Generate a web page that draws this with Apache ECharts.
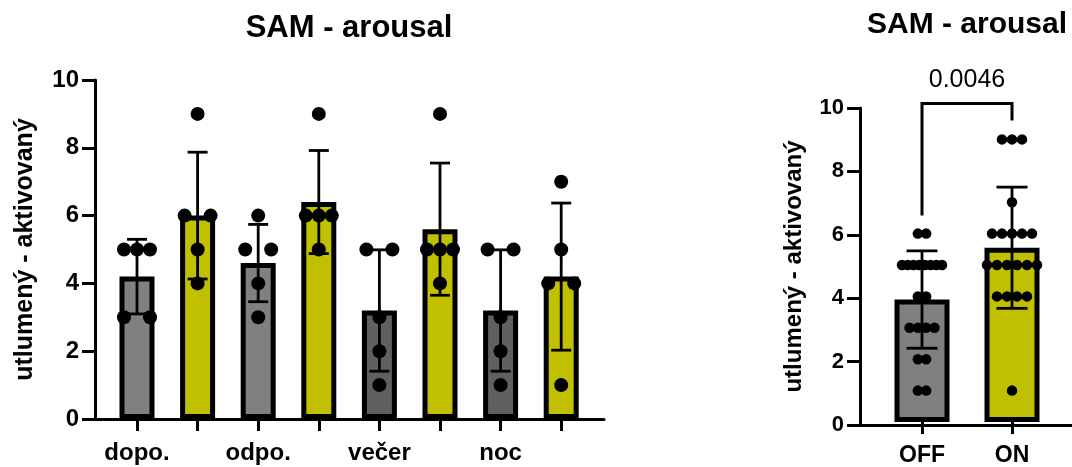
<!DOCTYPE html>
<html>
<head>
<meta charset="utf-8">
<script src="https://cdn.jsdelivr.net/npm/echarts@6/dist/echarts.min.js"></script>
<style>
  html, body { margin: 0; padding: 0; background: #ffffff; }
  #chart { width: 1072px; height: 467px; }
</style>
</head>
<body>
<div id="chart"></div>
<script>
// ---- data ----------------------------------------------------------------
const periods = ['dopo.', 'odpo.', 'večer', 'noc'];
const conditions = ['OFF', 'ON'];
const yTicks = [0, 2, 4, 6, 8, 10];

// individual SAM arousal ratings per period (OFF / ON)
const dopoOff = [5, 5, 5, 3, 3];
const dopoOn = [9, 6, 6, 5, 4];
const odpoOff = [6, 5, 5, 4, 3];
const odpoOn = [9, 6, 6, 6, 5];
const vecerOff = [5, 5, 3, 2, 1];
const vecerOn = [9, 5, 5, 5, 4];
const nocOff = [5, 5, 3, 2, 1];
const nocOn = [7, 5, 4, 4, 1];

// bar heights (mean) and error bars (SD), in the order dopo OFF, dopo ON, odpo OFF, ...
const periodMeans = [4.2, 6.0, 4.6, 6.4, 3.2, 5.6, 3.2, 4.2];
const periodSD = [1.10, 1.87, 1.14, 1.52, 1.79, 1.95, 1.79, 2.17];

// pooled ratings OFF vs ON
const pooledOff = [6, 6, 5, 5, 5, 5, 5, 5, 5, 5, 4, 4, 3, 3, 3, 3, 2, 2, 1, 1];
const pooledOn = [9, 9, 9, 7, 6, 6, 6, 6, 6, 5, 5, 5, 5, 5, 5, 4, 4, 4, 4, 1];
const pooledMeans = [3.9, 5.55];
const pooledSD = [1.55, 1.93];
const pValue = '0.0046';

// ---- styling -------------------------------------------------------------
const GRAY = '#808080';
const DARK_GRAY = '#606060';
const OLIVE = '#c0c000';
const FONT = '"Liberation Sans", Arial, sans-serif';
const AXIS_W = 3;

const periodGroups = [dopoOff, dopoOn, odpoOff, odpoOn, vecerOff, vecerOn, nocOff, nocOn];
const leftCats = [];
periods.forEach(p => conditions.forEach(c => leftCats.push(p + ' ' + c)));
const leftColors = [GRAY, OLIVE, GRAY, OLIVE, DARK_GRAY, OLIVE, DARK_GRAY, OLIVE];

// spread equal values sideways so the dots do not sit on top of each other
function spreadPoints(catIndex, values, step, maxSpan) {
  const counts = {};
  values.forEach(v => { counts[v] = (counts[v] || 0) + 1; });
  const seen = {};
  return values.map(v => {
    const n = counts[v];
    const k = seen[v] = (seen[v] === undefined ? 0 : seen[v] + 1);
    const s = n > 1 ? Math.min(step, maxSpan / (n - 1)) : 0;
    return { value: [catIndex, v], symbolOffset: [(k - (n - 1) / 2) * s, 0] };
  });
}

const leftDots = [];
periodGroups.forEach((g, i) => leftDots.push(...spreadPoints(i, g, 26, 26)));
const rightDots = [
  ...spreadPoints(0, pooledOff, 8.3, 40),
  ...spreadPoints(1, pooledOn, 10, 60)
];

function errorBarSeries(xi, yi, means, sds, capHalf) {
  return {
    type: 'custom',
    xAxisIndex: xi, yAxisIndex: yi,
    z: 3,
    encode: { x: 0, y: 1 },
    data: means.map((m, i) => [i, m, sds[i]]),
    renderItem: function (params, api) {
      const x = api.value(0), m = api.value(1), s = api.value(2);
      const top = api.coord([x, m + s]);
      const bot = api.coord([x, m - s]);
      const st = { stroke: '#000', lineWidth: 2.8 };
      return {
        type: 'group',
        children: [
          { type: 'line', shape: { x1: top[0], y1: top[1], x2: bot[0], y2: bot[1] }, style: st },
          { type: 'line', shape: { x1: top[0] - capHalf, y1: top[1], x2: top[0] + capHalf, y2: top[1] }, style: st },
          { type: 'line', shape: { x1: bot[0] - capHalf, y1: bot[1], x2: bot[0] + capHalf, y2: bot[1] }, style: st }
        ]
      };
    }
  };
}

function frameX(gi) {
  return {
    gridIndex: gi, type: 'value', min: 0, max: 1,
    axisLine: { show: true, lineStyle: { color: '#000', width: AXIS_W } },
    axisTick: { show: false }, axisLabel: { show: false }, splitLine: { show: false }
  };
}
function frameY(gi, labelSize, nameGap, nameSize) {
  return {
    gridIndex: gi, type: 'value', min: yTicks[0], max: yTicks[yTicks.length - 1],
    interval: yTicks[1] - yTicks[0],
    axisLine: { show: true, lineStyle: { color: '#000', width: AXIS_W } },
    axisTick: { show: true, length: 13, lineStyle: { color: '#000', width: AXIS_W } },
    axisLabel: { color: '#000', fontFamily: FONT, fontWeight: 'bold', fontSize: labelSize, margin: 16 },
    splitLine: { show: false },
    name: 'utlumený - aktivovaný',
    nameLocation: 'middle', nameRotate: 90, nameGap: nameGap,
    nameTextStyle: { color: '#000', fontFamily: FONT, fontWeight: 'bold', fontSize: nameSize }
  };
}
function plotY(gi) {
  return { gridIndex: gi, type: 'value', min: yTicks[0], max: yTicks[yTicks.length - 1], show: false };
}
function catX(gi, data, fontSize, formatter) {
  return {
    gridIndex: gi, type: 'category', data: data,
    axisLine: { show: false },
    axisTick: { show: true, alignWithLabel: true, length: 12, lineStyle: { color: '#000', width: AXIS_W } },
    axisLabel: { interval: 0, color: '#000', fontFamily: FONT, fontWeight: 'bold', fontSize: fontSize, margin: 22, formatter: formatter },
    splitLine: { show: false }
  };
}

const option = {
  animation: false,
  backgroundColor: '#ffffff',
  graphic: [
    { type: 'text', x: 349, y: 28, style: { text: 'SAM - arousal', font: 'bold 31px ' + FONT, fill: '#000', align: 'center', verticalAlign: 'middle' } },
    { type: 'text', x: 967, y: 25, style: { text: 'SAM - arousal', font: 'bold 30px ' + FONT, fill: '#000', align: 'center', verticalAlign: 'middle' } }
  ],
  grid: [
    { left: 95, top: 80, width: 509, height: 339 },      // left frame (axes)
    { left: 106.7, top: 80, width: 484.8, height: 339 }, // left plot area
    { left: 860, top: 108, width: 230, height: 317 },    // right frame (axes)
    { left: 877, top: 108, width: 180, height: 317 }     // right plot area
  ],
  xAxis: [
    frameX(0),
    catX(1, leftCats, 24, (v, i) => (i % 2 === 0 ? periods[i / 2] : '')),
    frameX(2),
    catX(3, conditions, 23, v => v)
  ],
  yAxis: [
    frameY(0, 24, 57, 25),
    plotY(1),
    frameY(2, 22, 54, 24),
    plotY(3)
  ],
  series: [
    {
      type: 'bar', xAxisIndex: 1, yAxisIndex: 1, barWidth: 35, z: 2,
      data: periodMeans.map((m, i) => ({ value: m, itemStyle: { color: leftColors[i] } })),
      itemStyle: { borderColor: '#000', borderWidth: 5 }
    },
    errorBarSeries(1, 1, periodMeans, periodSD, 10),
    {
      type: 'scatter', xAxisIndex: 1, yAxisIndex: 1, z: 4,
      symbol: 'circle', symbolSize: 14, itemStyle: { color: '#000', opacity: 1 },
      data: leftDots
    },
    {
      type: 'bar', xAxisIndex: 3, yAxisIndex: 3, barWidth: 55, z: 2,
      data: pooledMeans.map((m, i) => ({ value: m, itemStyle: { color: i === 0 ? GRAY : OLIVE } })),
      itemStyle: { borderColor: '#000', borderWidth: 5 }
    },
    errorBarSeries(3, 3, pooledMeans, pooledSD, 15.5),
    {
      type: 'scatter', xAxisIndex: 3, yAxisIndex: 3, z: 4,
      symbol: 'circle', symbolSize: 10.5, itemStyle: { color: '#000', opacity: 1 },
      data: rightDots
    },
    {
      // significance bracket between OFF and ON with its p-value
      type: 'custom', xAxisIndex: 3, yAxisIndex: 3, z: 5, clip: false,
      encode: { x: 0, y: [1, 2] },
      data: [[0, Math.max(...pooledOff), Math.max(...pooledOn)]],
      renderItem: function (params, api) {
        const a = api.coord([0, api.value(1)]);
        const b = api.coord([1, api.value(2)]);
        const legA = a[1] - 18, legB = b[1] - 19;
        const top = Math.min(legA, legB) - 17;
        const st = { stroke: '#000', lineWidth: 3, fill: null };
        return {
          type: 'group',
          children: [
            { type: 'polyline', shape: { points: [[a[0], legA], [a[0], top], [b[0], top], [b[0], legB]] }, style: st },
            { type: 'text', x: (a[0] + b[0]) / 2, y: top - 23,
              style: { text: pValue, font: '25px ' + FONT, fill: '#000', align: 'center', verticalAlign: 'middle' } }
          ]
        };
      }
    }
  ]
};

const chart = echarts.init(document.getElementById('chart'), null, { renderer: 'canvas' });
chart.setOption(option);
</script>
</body>
</html>
